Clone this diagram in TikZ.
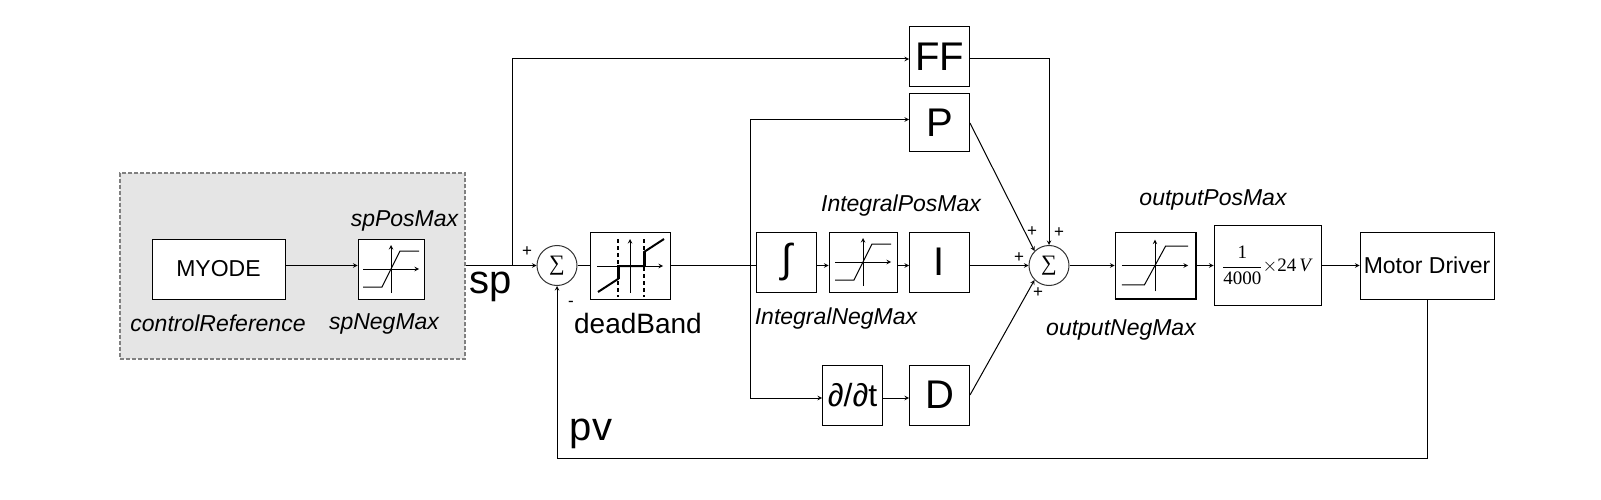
\documentclass[tikz,border=0pt]{standalone}
\usepackage{fix-cm}
\usepackage{fontspec}
\setmainfont{Liberation Sans}
\newfontfamily\sumfont{Liberation Serif}
\usetikzlibrary{arrows}

\newcommand{\fsize}[1]{\fontsize{#1}{#1}\selectfont}

\tikzstyle{block} = [rectangle, draw=black, fill=white, line width=1pt, inner sep=0pt, text centered, minimum width=60pt, minimum height=60pt, font=\fsize{40}]
\tikzstyle{sumcircle} = [circle, draw=black!80, fill=white, line width=1pt, inner sep=0pt, minimum size=40pt, font=\fsize{22}\sumfont]
\tikzstyle{limit} = [font=\fsize{23}\itshape]
\tikzstyle{biglabel} = [font=\fsize{40}]
\tikzstyle{sign} = [font=\fsize{17}]
\tikzstyle{arrow} = [line width=1pt,->,>=stealth]
\tikzstyle{line} = [line width=1pt]
\tikzstyle{bandedge} = [line width=1.5pt, dash pattern=on 4pt off 3pt]

% saturation curve, drawn around the centre of its block
\newcommand{\satcurve}[3]{
\begin{scope}[shift={(#1)},xscale=#2,yscale=#3]
\draw [arrow] (-28,0) -- (28,0);
\draw [arrow] (0,24) -- (0,-24);
\draw [line] (-28,18) -- (-9,18) -- (9,-18) -- (28,-18);
\end{scope}
}

\begin{document}
\begin{tikzpicture}[x=1pt,y=-1pt,node distance=60pt]
\useasboundingbox (0,0) rectangle (1601,500);

% Reference group
\node (group) [rectangle, draw=black!50, fill=black!10, dash pattern=on 4pt off 2pt, line width=1.5pt, minimum width=345pt, minimum height=186pt, inner sep=0pt] at (292.5,266) {};

% Rows of the connectors
\coordinate (rowff) at (0,59);
\coordinate (rowp) at (0,119.5);
\coordinate (rowmid) at (0,265.5);
\coordinate (rowd) at (0,398);
\coordinate (rowfb) at (0,458);

% Nodes
\node (myode) [block, minimum width=133pt, font=\fsize{23}] at (218.5,269) {\raisebox{-1pt}{MYODE}};
\node (spsat) [block, minimum width=66pt, right of=myode, xshift=112.5pt] {};
\node (sumin) [sumcircle] at (557,265.5) {∑};
\node (deadband) [block, minimum width=80pt, minimum height=67pt, right of=sumin, xshift=13pt] {};
\node (integ) [block] at (786.5,262) {∫};
\node (intsat) [block, minimum width=68pt, right of=integ, xshift=16.5pt] {};
\node (igain) [block, right of=intsat, xshift=16.5pt] {I};
\node (pgain) [block, minimum height=58pt] at (939.5,123) {P};
\node (ffgain) [block, above of=pgain, yshift=6pt] {FF};
\node (dgain) [block] at (939.5,395) {D};
\node (ddt) [block, left of=dgain, xshift=-27pt, font=\fsize{32}] {∂/∂t};
\node (sumout) [sumcircle] at (1049,265.5) {∑};
\node (outsat) [block, minimum width=80pt, minimum height=66pt, right of=sumout, xshift=46pt] {};
\node (gain) [block, minimum width=107pt, minimum height=80pt, right of=outsat, xshift=52.5pt, font=\fsize{19}\sumfont] {$\displaystyle\frac{\mbox{1}}{\mbox{4000}}{\times}$24\,\textit{V}};
\node (motor) [block, minimum width=134pt, minimum height=67pt, font=\fsize{23}] at (1427,265.5) {Motor Driver};

% Labels
\node (controlref) [limit] at (218,323) {controlReference};
\node (spposmax) [limit] at (404.5,221) {spPosMax};
\node (spnegmax) [limit] at (384,324) {spNegMax};
\node (splabel) [biglabel] at (491,287) {sp};
\node (deadlabel) [font=\fsize{28}] at (638,323) {deadBand};
\node (pvlabel) [biglabel] at (591,434) {pv};
\node (intposmax) [limit] at (901,206) {IntegralPosMax};
\node (intnegmax) [limit] at (836,319) {IntegralNegMax};
\node (outposmax) [limit] at (1213,200) {outputPosMax};
\node (outnegmax) [limit] at (1121,330) {outputNegMax};

% Signs
\node (signsp) [sign] at (527,252) {+};
\node (signpv) [sign] at (571,304) {-};
\node (signp) [sign] at (1032,232) {+};
\node (signff) [sign] at (1059,233) {+};
\node (signi) [sign] at (1019,258) {+};
\node (signd) [sign] at (1038,293) {+};

% Block drawings
\satcurve{spsat}{1}{1}
\satcurve{intsat}{1}{1}
\satcurve{outsat}{1.18}{1.08}
\draw [bandedge] (618,239) -- (618,297);
\draw [bandedge] (644,239) -- (644,297);
\draw [arrow] (597,266) -- (663,266);
\draw [arrow] (630,293) -- (630,239);
\draw [line width=2pt] (598,292) -- (618,279) -- (618,266) -- (644,266) -- (644,252) -- (664,239);
\draw [line width=3pt] (618,279) -- (618,266);
\draw [line width=3pt] (644,266) -- (644,252);
\draw [line width=2pt] (outsat.south west) -- (outsat.south east) -- (outsat.north east);

% Arrows
\draw [arrow] (myode.east |- rowmid) -- (spsat.west |- rowmid);
\draw [arrow] (group.east |- rowmid) -- (sumin.west);
\coordinate (spsplit) at (512,265.5);
\draw [arrow] (spsplit) -- (spsplit |- rowff) -- (ffgain.west |- rowff);
\draw [line] (sumin.east) -- (deadband.west |- rowmid);
\draw [line] (deadband.east |- rowmid) -- (integ.west |- rowmid);
\coordinate (pdsplit) at (750,265.5);
\draw [arrow] (pdsplit) -- (pdsplit |- rowp) -- (pgain.west |- rowp);
\draw [arrow] (pdsplit) -- (pdsplit |- rowd) -- (ddt.west |- rowd);
\draw [arrow] (integ.east |- rowmid) -- (intsat.west |- rowmid);
\draw [arrow] (intsat.east |- rowmid) -- (igain.west |- rowmid);
\draw [arrow] (igain.east |- rowmid) -- (sumout.west);
\draw [arrow] (ddt.east |- rowd) -- (dgain.west |- rowd);
\draw [arrow] (ffgain.east |- rowff) -- (sumout.north |- rowff) -- (sumout.north);
\draw [arrow] (pgain.east) -- (sumout.135);
\draw [arrow] (dgain.east) -- (sumout.225);
\draw [arrow] (sumout.east) -- (outsat.west |- rowmid);
\draw [arrow] (outsat.east |- rowmid) -- (gain.west |- rowmid);
\draw [arrow] (gain.east |- rowmid) -- (motor.west |- rowmid);
\draw [arrow] (motor.south) -- (motor.south |- rowfb) -- (sumin.south |- rowfb) -- (sumin.south);

\end{tikzpicture}
\end{document}
